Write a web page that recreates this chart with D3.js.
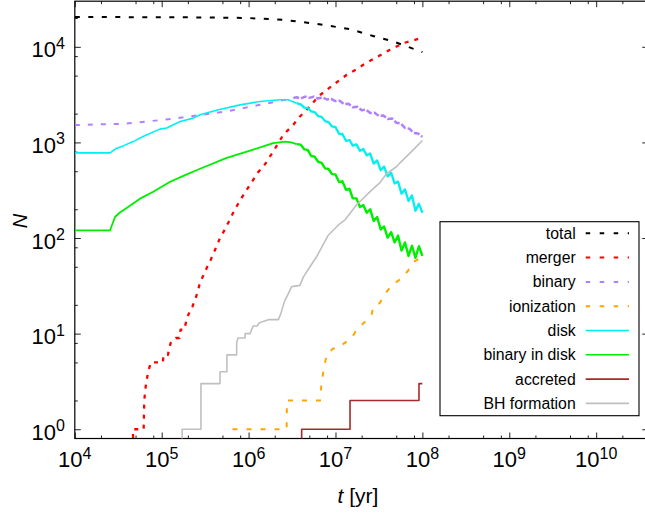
<!DOCTYPE html>
<html><head><meta charset="utf-8">
<script src="https://cdn.jsdelivr.net/npm/d3@7"></script>
<style>
body{margin:0;background:#fff}
text{font-family:"Liberation Sans",Arial,Helvetica,sans-serif;fill:#000}
</style>
</head><body>
<svg id="c" width="645" height="516"></svg>
<script>
// ---------------- data ----------------
const xTickExps = [4, 5, 6, 7, 8, 9, 10];
const yTickExps = [0, 1, 2, 3, 4];
const minorMantissas = [2, 5, 8];
const seriesNames = ["total", "merger", "binary", "ionization", "disk", "binary in disk", "accreted", "BH formation"];

// [t (yr), N]
const total = [[1e4,20500],[1e5,20400],[3e5,20300],[1e6,20000],[2.5e6,19150],[6.1e6,17400],[1.47e7,15300],[2.7e7,13000],[4.6e7,11400],[6.6e7,10100],[1e8,8800]];

const merger = [[4.68e4,0.5],[4.68e4,1],[6.2e4,1],[6.3e4,2],[6.6e4,3],[7.0e4,4],[7.5e4,5],[1.03e5,5],[1.05e5,6],[1.18e5,6],[1.22e5,7],[1.27e5,8],[1.45e5,9],[1.6e5,9],[1.65e5,11],[1.82e5,11],[1.97e5,15],[2.25e5,19],[2.48e5,24],[2.76e5,34],[3.2e5,46],[3.66e5,59],[4.1e5,75],[4.69e5,100],[5.45e5,127],[6.67e5,185],[7.96e5,247],[9.5e5,319],[1.29e6,489],[1.55e6,593],[1.92e6,803],[2.51e6,1202],[3.27e6,1528],[3.9e6,1866],[5.09e6,2376],[6.34e6,3022],[7.93e6,3548],[9.44e6,4005],[1.35e7,5097],[1.75e7,5845],[2.09e7,6486],[2.98e7,7800],[4.24e7,9306],[6.03e7,10930],[7.85e7,11650],[1e8,12500]];

const binary = [[1e4,1520],[3.6e4,1567],[6.7e4,1656],[1.36e5,1766],[2.2e5,1880],[3.6e5,2000],[5.35e5,2100],[8.7e5,2285],[1.35e6,2472],[2.1e6,2680],[3.27e6,2904],[3.55e6,2972],[3.98e6,2884],[4.47e6,3013],[5.01e6,2924],[5.62e6,3013],[6.31e6,2877],[7.08e6,2965],[7.94e6,2812],[8.91e6,2858],[1e7,2704],[1.12e7,2729],[1.26e7,2512],[1.41e7,2535],[1.58e7,2333],[1.78e7,2355],[2.0e7,2173],[2.24e7,2198],[2.51e7,2028],[2.82e7,2046],[3.16e7,1888],[3.55e7,1910],[3.98e7,1762],[4.47e7,1782],[5.01e7,1607],[5.62e7,1581],[6.31e7,1416],[7.08e7,1393],[7.94e7,1256],[8.91e7,1239],[1e8,1143]];

const ionization = [[6.6e5,0.5],[6.67e5,1],[2.74e6,1],[2.76e6,2],[6.64e6,2],[6.9e6,3],[7.25e6,4],[7.9e6,6],[9.4e6,7],[1.05e7,7],[1.28e7,8],[1.54e7,9],[1.75e7,11],[2.13e7,13],[2.61e7,16],[2.72e7,19],[3.25e7,21],[3.72e7,26],[4.44e7,32],[5.78e7,38],[6.89e7,46],[7.85e7,56],[1e8,64]];

const disk = [[1e4,778],[2.55e4,778],[3.0e4,865],[3.6e4,920],[4.7e4,1020],[6.1e4,1154],[9.5e4,1377],[1.14e5,1413],[1.63e5,1656],[2.31e5,1795],[2.76e5,1946],[4.5e5,2200],[8e5,2470],[1.35e6,2680],[2.3e6,2790],[2.86e6,2790],[3.57e6,2576],[3.98e6,2500],[4.37e6,2310],[4.79e6,2300],[5.25e6,2110],[5.75e6,2080],[6.31e6,1885],[6.92e6,1850],[7.59e6,1670],[8.32e6,1630],[9.12e6,1470],[1.0e7,1445],[1.10e7,1230],[1.20e7,1225],[1.32e7,1040],[1.45e7,1060],[1.58e7,925],[1.74e7,955],[1.91e7,818],[2.09e7,855],[2.29e7,732],[2.51e7,765],[2.75e7,600],[3.02e7,648],[3.31e7,512],[3.63e7,558],[3.98e7,442],[4.37e7,480],[4.79e7,372],[5.25e7,389],[5.75e7,291],[6.31e7,323],[6.92e7,244],[7.59e7,279],[8.32e7,193],[9.12e7,228],[1.0e8,184]];

const binaryInDisk = [[1e4,120],[2.54e4,120],[2.9e4,166],[3.3e4,185],[3.95e4,206],[5.62e4,258],[8e4,305],[1.25e5,388],[1.8e5,450],[2.76e5,530],[5.6e5,690],[1.04e6,820],[1.6e6,930],[1.92e6,984],[2.62e6,1021],[3.1e6,1000],[3.57e6,960],[3.98e6,948],[4.37e6,847],[4.79e6,836],[5.25e6,721],[5.75e6,711],[6.31e6,628],[6.92e6,612],[7.59e6,535],[8.32e6,527],[9.12e6,466],[1.0e7,462],[1.10e7,385],[1.20e7,394],[1.32e7,320],[1.45e7,327],[1.58e7,260],[1.74e7,260],[1.91e7,211],[2.09e7,221],[2.29e7,184],[2.51e7,200],[2.75e7,151],[3.02e7,166],[3.31e7,123],[3.63e7,132],[3.98e7,101],[4.37e7,115],[4.79e7,90],[5.25e7,106],[5.75e7,74],[6.31e7,90],[6.92e7,65],[7.59e7,83],[8.32e7,62],[9.12e7,82],[1.0e8,65]];

const accreted = [[4.08e6,0.5],[4.08e6,1],[1.47e7,1],[1.47e7,2],[9.14e7,2],[9.14e7,3],[1e8,3]];

const bhFormation = [[1.72e5,0.5],[1.72e5,1],[2.83e5,1],[2.83e5,3],[4.69e5,3],[4.69e5,4],[5.63e5,4],[5.63e5,6],[7.29e5,6],[7.29e5,8],[7.55e5,9],[9.1e5,9],[9.1e5,10],[1.04e6,10],[1.08e6,11],[1.13e6,12],[1.25e6,12],[1.33e6,13],[1.69e6,14],[2.2e6,14],[2.34e6,16],[2.6e6,22],[2.86e6,26],[3.13e6,31],[3.9e6,32],[4.26e6,39],[5.09e6,50],[6.08e6,64],[8.26e6,107],[1.08e7,137],[1.29e7,155],[1.75e7,223],[2.5e7,306],[3.25e7,380],[3.88e7,470],[5.06e7,560],[5.52e7,610],[7.85e7,836],[1e8,1047]];

// ---------------- chart ----------------
const svg = d3.select("#c");
const xL = 74.8, xR = 648.3, yT = 1.2, yB = 438.5;
const x = d3.scaleLog().domain([1e4, 3.98e10]).range([xL, xR]);
const y = d3.scaleLog().domain([0.8, 3e4]).range([yB, yT]);

const majX = xTickExps.map(e => Math.pow(10, e));
const majY = yTickExps.map(e => Math.pow(10, e));
const minX = [], minY = [];
xTickExps.forEach(e => minorMantissas.forEach(m => { const v = m * Math.pow(10, e); if (v <= x.domain()[1]) minX.push(v); }));
yTickExps.forEach(e => minorMantissas.forEach(m => { const v = m * Math.pow(10, e); if (v <= y.domain()[1]) minY.push(v); }));

function ticks(gen, tr) {
  const g = svg.append("g").attr("transform", tr).call(gen);
  g.select(".domain").remove();
  g.selectAll("line").attr("stroke", "#222").attr("stroke-width", 1);
}
ticks(d3.axisBottom(x).tickValues(majX).tickSize(-6).tickFormat(""), `translate(0,${yB})`);
ticks(d3.axisBottom(x).tickValues(minX).tickSize(-3).tickFormat(""), `translate(0,${yB})`);
ticks(d3.axisTop(x).tickValues(majX).tickSize(-6).tickFormat(""), `translate(0,${yT})`);
ticks(d3.axisTop(x).tickValues(minX).tickSize(-3).tickFormat(""), `translate(0,${yT})`);
ticks(d3.axisLeft(y).tickValues(majY).tickSize(-6).tickFormat(""), `translate(${xL},0)`);
ticks(d3.axisLeft(y).tickValues(minY).tickSize(-3).tickFormat(""), `translate(${xL},0)`);
ticks(d3.axisRight(y).tickValues(majY).tickSize(-6).tickFormat(""), `translate(${xR},0)`);
ticks(d3.axisRight(y).tickValues(minY).tickSize(-3).tickFormat(""), `translate(${xR},0)`);

// frame
svg.append("rect").attr("x", xL).attr("y", yT).attr("width", xR - xL).attr("height", yB - yT)
  .attr("fill", "none").attr("stroke", "#000").attr("stroke-width", 1.2);

// tick labels
xTickExps.forEach((e, i) => {
  const t = svg.append("text").attr("x", x(majX[i])).attr("y", 467).attr("text-anchor", "middle").attr("font-size", 22);
  t.append("tspan").text("10");
  t.append("tspan").attr("dy", -8.5).attr("font-size", 16).text(String(e));
});
yTickExps.forEach((e, i) => {
  const t = svg.append("text").attr("x", 65).attr("y", y(majY[i]) + 10.5).attr("text-anchor", "end").attr("font-size", 22);
  t.append("tspan").text("10");
  t.append("tspan").attr("dy", -8.5).attr("font-size", 16).text(String(e));
});

// axis titles
svg.append("text").attr("transform", "translate(26.5,221) rotate(-90)").attr("text-anchor", "middle")
  .attr("font-size", 20).attr("font-style", "italic").text("N");
const xt = svg.append("text").attr("x", 358).attr("y", 503).attr("text-anchor", "middle").attr("font-size", 21);
xt.append("tspan").attr("font-style", "italic").text("t");
xt.append("tspan").text(" [yr]");

// lines
svg.append("clipPath").attr("id", "clip").append("rect")
  .attr("x", xL).attr("y", yT).attr("width", xR - xL).attr("height", yB - yT);
const plot = svg.append("g").attr("clip-path", "url(#clip)");
const line = d3.line().x(d => x(d[0])).y(d => y(d[1]));

const styles = [
  {data: total, color: "#000000", w: 2, dash: "5,8.5"},
  {data: merger, color: "#ff0000", w: 2.3, dash: "4,6"},
  {data: binary.filter(d => d[0] <= 3.27e6), color: "#b080ff", w: 2, dash: "5,8"},
  {data: binary.filter(d => d[0] >= 3.27e6), color: "#b080ff", w: 2.5, dash: "6,2"},
  {data: ionization, color: "#ffa500", w: 2, dash: "5,9"},
  {data: disk.filter(d => d[0] <= 3.57e6), color: "#00f0f0", w: 1.6, dash: null},
  {data: disk.filter(d => d[0] >= 3.57e6), color: "#00f0f0", w: 2.3, dash: null},
  {data: binaryInDisk.filter(d => d[0] <= 3.57e6), color: "#00ee00", w: 1.8, dash: null},
  {data: binaryInDisk.filter(d => d[0] >= 3.57e6), color: "#00ee00", w: 2.4, dash: null},
  {data: accreted, color: "#a52a2a", w: 1.6, dash: null},
  {data: bhFormation, color: "#c0c0c0", w: 1.6, dash: null}
];
styles.forEach(s => {
  plot.append("path").attr("d", line(s.data)).attr("fill", "none")
    .attr("stroke", s.color).attr("stroke-width", s.w)
    .attr("stroke-linejoin", "round")
    .attr("stroke-dasharray", s.dash);
});

// legend
const legendStyles = [
  {color: "#000000", w: 2, dash: "4.5,9.5"},
  {color: "#ff0000", w: 2, dash: "4.5,9.5"},
  {color: "#b080ff", w: 2, dash: "4.5,9.5"},
  {color: "#ffa500", w: 2, dash: "4.5,9.5"},
  {color: "#00f0f0", w: 1.6, dash: null},
  {color: "#00ee00", w: 1.6, dash: null},
  {color: "#a52a2a", w: 1.6, dash: null},
  {color: "#c0c0c0", w: 1.6, dash: null}
];
const lg = svg.append("g");
lg.append("rect").attr("x", 440).attr("y", 221.7).attr("width", 199).attr("height", 194)
  .attr("fill", "#fff").attr("stroke", "#000").attr("stroke-width", 1.1);
seriesNames.forEach((name, i) => {
  const cy = 233.3 + i * 24.3;
  lg.append("text").attr("x", 575.7).attr("y", cy + 5.5).attr("text-anchor", "end").attr("font-size", 15.8).text(name);
  lg.append("line").attr("x1", 585.7).attr("x2", 629).attr("y1", cy).attr("y2", cy)
    .attr("stroke", legendStyles[i].color).attr("stroke-width", legendStyles[i].w)
    .attr("stroke-dasharray", legendStyles[i].dash);
});
</script>
</body></html>
